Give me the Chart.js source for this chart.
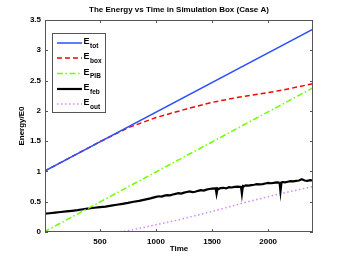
<!DOCTYPE html>
<html><head><meta charset="utf-8">
<script src="https://cdn.jsdelivr.net/npm/chart.js@4"></script>
<style>html,body{margin:0;padding:0;background:#fff;}canvas{display:block;}</style>
</head><body>
<canvas id="c" width="346" height="261"></canvas>
<script>
const xTicks = [500, 1000, 1500, 2000];
const yTicks = [0, 0.5, 1, 1.5, 2, 2.5, 3, 3.5];

const totT = [0, 2400];
const totV = [1.0, 3.35];

const boxT = [0, 250, 500, 750, 1000, 1250, 1500, 1750, 2000, 2200, 2400];
const boxV = [1.0, 1.245, 1.49, 1.72, 1.89, 2.02, 2.14, 2.23, 2.30, 2.37, 2.45];

const pibT = [0, 2400];
const pibV = [0.0, 2.38];

const febT = [0,50,100,150,200,250,300,350,400,450,500,550,600,650,700,750,800,850,900,950,
  1000,1025,1050,1075,1100,1125,1150,1175,1200,1225,1250,1275,1300,1325,1350,1375,1400,1425,1450,1475,1500,1525,
  1532,1540,1549,1560,1575,1600,1625,1650,1675,1700,1725,1750,1757,1766,1775,1785,1800,1825,1850,1875,1900,1925,1950,1975,
  2000,2025,2050,2075,2100,2102,2110,2119,2130,2150,2175,2200,2225,2250,2275,2300,2325,2350,2375,2400];
const febV = [0.30,0.31,0.32,0.33,0.34,0.35,0.36,0.375,0.39,0.40,0.41,0.42,0.435,0.45,0.465,0.48,0.50,0.515,0.535,0.555,
  0.58,0.59,0.585,0.60,0.61,0.605,0.62,0.63,0.64,0.635,0.65,0.66,0.67,0.66,0.665,0.68,0.69,0.685,0.70,0.71,0.715,0.72,
  0.72,0.63,0.72,0.71,0.725,0.73,0.72,0.74,0.735,0.745,0.75,0.745,0.76,0.63,0.76,0.755,0.77,0.765,0.775,0.78,0.79,0.785,0.79,0.80,
  0.81,0.805,0.81,0.82,0.815,0.82,0.67,0.82,0.825,0.82,0.83,0.84,0.835,0.845,0.85,0.87,0.85,0.845,0.855,0.85];

const outT = [0, 600, 700, 800, 900, 1000, 1100, 1200, 1500, 1800, 2100, 2400];
const outV = [0, 0, 0.01, 0.04, 0.08, 0.12, 0.16, 0.20, 0.34, 0.49, 0.63, 0.75];

const seriesNames = ['tot', 'box', 'PIB', 'feb', 'out'];
const colors = ['rgb(45,80,255)', 'rgb(255,0,0)', 'rgb(110,255,0)', 'rgb(0,0,0)', 'rgb(215,135,255)'];
const dashes = [[], [5,3], [6,2.5,1.5,2.5], [], [1.5,2.5]];
const widths = [1.5, 1.5, 1.5, 2.2, 1.5];

function pts(t, v){ return t.map((x,i)=>({x:x, y:v[i]})); }
const allData = [pts(totT,totV), pts(boxT,boxV), pts(pibT,pibV), pts(febT,febV), pts(outT,outV)];

const FONT = '"Liberation Sans", Arial, sans-serif';

const decor = {
  id: 'decor',
  afterDraw(chart){
    const ctx = chart.ctx, a = chart.chartArea;
    const xs = chart.scales.x, ys = chart.scales.y;
    ctx.save();
    ctx.strokeStyle = '#555';
    ctx.lineWidth = 1;
    ctx.setLineDash([]);
    ctx.strokeRect(a.left+0.5, a.top+0.5, a.right-a.left-1, a.bottom-a.top-1);
    ctx.beginPath();
    xTicks.forEach(v=>{
      const px = Math.round(xs.getPixelForValue(v))+0.5;
      ctx.moveTo(px, a.bottom); ctx.lineTo(px, a.bottom-3);
      ctx.moveTo(px, a.top); ctx.lineTo(px, a.top+3);
    });
    yTicks.forEach(v=>{
      const py = Math.round(ys.getPixelForValue(v))+0.5;
      ctx.moveTo(a.left, py); ctx.lineTo(a.left+3, py);
      ctx.moveTo(a.right, py); ctx.lineTo(a.right-3, py);
    });
    ctx.stroke();
    ctx.fillStyle = '#000';
    ctx.font = 'bold 8px ' + FONT;
    ctx.textAlign = 'center'; ctx.textBaseline = 'middle';
    ctx.fillText('The Energy vs Time in Simulation Box (Case A)', (a.left+a.right)/2, 10);
    ctx.fillText('Time', (a.left+a.right)/2, 249);
    ctx.save();
    ctx.translate(22, (a.top+a.bottom)/2);
    ctx.rotate(-Math.PI/2);
    ctx.fillText('Energy/E0', 0, 0);
    ctx.restore();
    const lx = 52.5, ly = 33.5, lw = 53, lh = 79;
    ctx.fillStyle = '#fff';
    ctx.fillRect(lx, ly, lw, lh);
    ctx.strokeStyle = '#555';
    ctx.lineWidth = 1;
    ctx.strokeRect(lx, ly, lw, lh);
    const rows = [43, 58, 73.5, 89, 104];
    seriesNames.forEach((n,i)=>{
      const y = rows[i];
      ctx.strokeStyle = colors[i];
      ctx.lineWidth = widths[i];
      ctx.setLineDash(dashes[i]);
      ctx.beginPath(); ctx.moveTo(57, y); ctx.lineTo(82, y); ctx.stroke();
      ctx.setLineDash([]);
      ctx.fillStyle = '#000';
      ctx.textAlign = 'left'; ctx.textBaseline = 'alphabetic';
      ctx.font = 'bold 9px ' + FONT;
      ctx.fillText('E', 83.5, y + 1);
      const ew = ctx.measureText('E').width;
      ctx.font = 'bold 6.5px ' + FONT;
      ctx.fillText(n, 83.5 + ew + 0.5, y + 4.5);
    });
    ctx.restore();
  }
};

new Chart(document.getElementById('c'), {
  type: 'line',
  data: {
    datasets: allData.map((d,i)=>({
      label: 'E_' + seriesNames[i],
      data: d,
      borderColor: colors[i],
      borderWidth: widths[i],
      borderDash: dashes[i],
      pointRadius: 0,
      fill: false,
      tension: 0
    }))
  },
  options: {
    responsive: false,
    animation: false,
    devicePixelRatio: 1,
    layout: { padding: { top: 20, right: 33, left: 0, bottom: 0 } },
    plugins: { legend: { display: false }, title: { display: false }, tooltip: { enabled: false } },
    scales: {
      x: {
        type: 'linear', min: 10, max: 2400,
        afterBuildTicks: s => { s.ticks = xTicks.map(v=>({value:v})); },
        afterFit: s => { s.height = 29; },
        grid: { display: false, drawTicks: false },
        border: { display: false },
        ticks: { padding: 5, color: '#000', font: { family: FONT, size: 8, weight: 'bold' }, maxRotation: 0, autoSkip: false,
          callback: v => String(v) }
      },
      y: {
        type: 'linear', min: 0, max: 3.5,
        afterBuildTicks: s => { s.ticks = yTicks.map(v=>({value:v})); },
        afterFit: s => { s.width = 45; },
        grid: { display: false, drawTicks: false },
        border: { display: false },
        ticks: { padding: 4, color: '#000', font: { family: FONT, size: 8, weight: 'bold' }, autoSkip: false,
          callback: v => String(v) }
      }
    }
  },
  plugins: [decor]
});
</script>
</body></html>
